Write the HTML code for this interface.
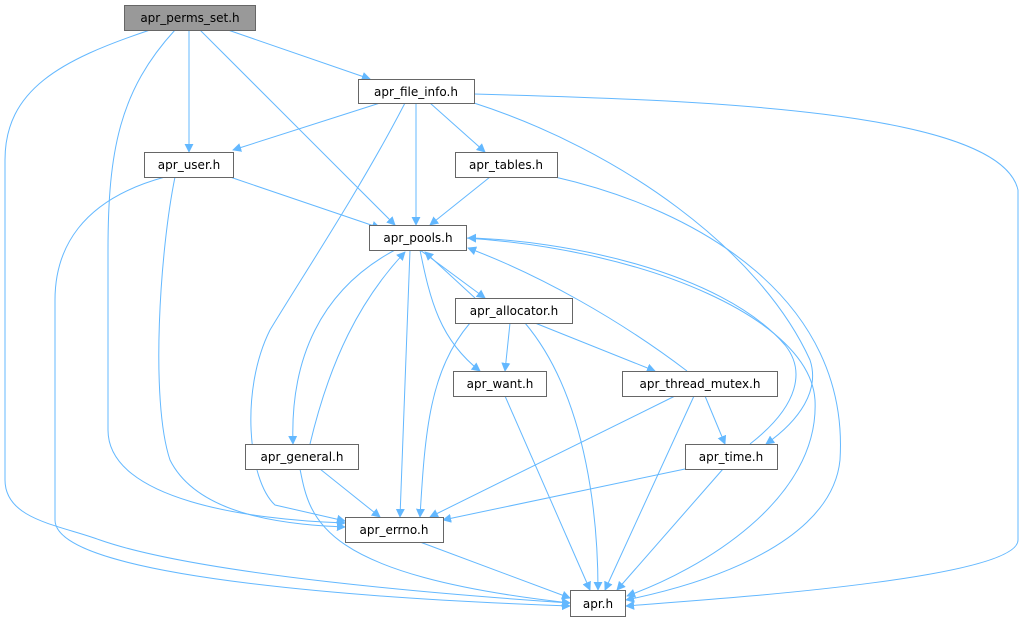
<!DOCTYPE html>
<html><head><meta charset="utf-8"><style>
html,body{margin:0;padding:0;background:#fff;}
svg{display:block}
text{font-family:"DejaVu Sans","Liberation Sans",sans-serif;font-size:12px;fill:#000}
</style></head><body>
<svg width="1023" height="623" viewBox="0 0 1023 623" xmlns="http://www.w3.org/2000/svg">
<defs>
<marker id="a" viewBox="0 0 10 10" refX="9" refY="5" markerWidth="9" markerHeight="9" orient="auto" markerUnits="userSpaceOnUse">
<path d="M0,0 L10,5 L0,10 z" fill="#63b8ff"/></marker>
</defs>
<g fill="none" stroke="#63b8ff" stroke-width="1" marker-end="url(#a)">
<path d="M228,30 L370,79"/>
<path d="M189,30 L189,152"/>
<path d="M200,30 L395,225"/>
<path d="M175,30 C120,90 108,150 108,250 L108,430 C108,500 250,520 345,523"/>
<path d="M150,30 C60,60 5,90 5,160 L5,480 C5,520 60,525 100,540 C200,575 450,595 570,603"/>
<path d="M380,103 L233,150"/>
<path d="M416,103 L416,225"/>
<path d="M430,103 L485,152"/>
<path d="M405,103 C360,190 300,280 270,330 C240,390 248,480 275,505 L345,521"/>
<path d="M474,103 C620,150 760,250 810,360 C820,390 800,420 766,444"/>
<path d="M474,94 C700,100 1000,110 1018,190 L1018,540 C1018,580 700,600 626,606"/>
<path d="M230,177 L380,228"/>
<path d="M175,177 C160,250 150,400 170,460 C200,520 300,525 345,527"/>
<path d="M165,177 C80,200 55,250 55,300 L55,520 C55,580 400,600 570,606"/>
<path d="M490,177 L430,225"/>
<path d="M555,177 C700,210 850,300 840,460 C830,560 650,595 626,600"/>
<path d="M420,250 L485,298"/>
<path d="M475,298 L425,252"/>
<path d="M420,250 C430,300 440,340 480,371"/>
<path d="M410,250 L400,517"/>
<path d="M395,250 C320,290 290,360 293,444"/>
<path d="M310,444 C330,360 360,300 405,252"/>
<path d="M466,238 C650,250 810,320 815,400 C820,500 700,570 627,596"/>
<path d="M687,371 C620,320 540,275 468,248"/>
<path d="M750,444 C800,405 805,370 785,345 C720,270 560,240 468,238"/>
<path d="M510,323 L505,371"/>
<path d="M535,323 L655,371"/>
<path d="M470,323 C430,370 425,430 420,517"/>
<path d="M525,323 C590,400 598,530 598,590"/>
<path d="M505,396 L590,590"/>
<path d="M705,396 L725,444"/>
<path d="M675,396 L430,517"/>
<path d="M694,396 L605,590"/>
<path d="M320,469 L380,517"/>
<path d="M300,469 C310,520 320,575 570,603"/>
<path d="M685,469 L443,520"/>
<path d="M723,469 L617,590"/>
<path d="M420,542 L570,598"/>
</g>
<g stroke="#666" stroke-width="1">
<rect x="124.5" y="5.5" width="131" height="25" fill="#999"/>
<rect x="358.5" y="79.5" width="116" height="24" fill="#fff"/>
<rect x="144.5" y="152.5" width="89" height="25" fill="#fff"/>
<rect x="455.5" y="152.5" width="102" height="25" fill="#fff"/>
<rect x="369.5" y="225.5" width="97" height="25" fill="#fff"/>
<rect x="455.5" y="298.5" width="117" height="25" fill="#fff"/>
<rect x="453.5" y="371.5" width="93" height="25" fill="#fff"/>
<rect x="622.5" y="371.5" width="155" height="25" fill="#fff"/>
<rect x="245.5" y="444.5" width="113" height="25" fill="#fff"/>
<rect x="685.5" y="444.5" width="92" height="25" fill="#fff"/>
<rect x="345.5" y="517.5" width="98" height="25" fill="#fff"/>
<rect x="570.5" y="590.5" width="55" height="26" fill="#fff"/>
</g>
<g text-anchor="middle">
<text x="190" y="22">apr_perms_set.h</text>
<text x="416" y="96">apr_file_info.h</text>
<text x="189" y="169">apr_user.h</text>
<text x="506" y="169">apr_tables.h</text>
<text x="418" y="242">apr_pools.h</text>
<text x="514" y="315">apr_allocator.h</text>
<text x="500" y="388">apr_want.h</text>
<text x="700" y="388">apr_thread_mutex.h</text>
<text x="302" y="461">apr_general.h</text>
<text x="731" y="461">apr_time.h</text>
<text x="394" y="534">apr_errno.h</text>
<text x="598" y="608">apr.h</text>
</g>
</svg>
</body></html>
